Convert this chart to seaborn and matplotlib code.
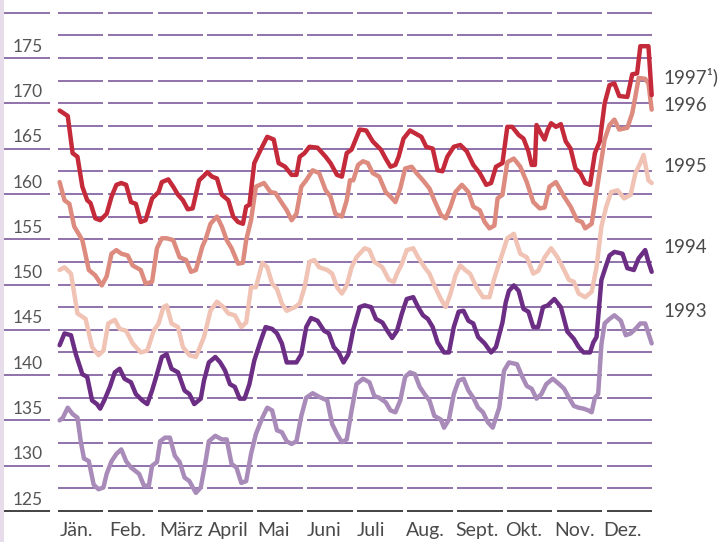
import numpy as np
import pandas as pd
import seaborn as sns
import matplotlib.pyplot as plt

# day of year / index value
days_1997 = [1, 6, 9, 12, 15, 18, 20, 23, 26, 30, 33, 36, 39, 42, 45, 48, 51, 54, 58, 62, 64, 68, 71, 74, 77, 80, 83, 87,
             90, 92, 95, 98, 101, 105, 108, 111, 114, 116, 118, 121, 125, 129, 133, 136, 140, 144, 147, 149, 152, 155,
             160, 165, 168, 172, 175, 178, 181, 186, 190, 194, 199, 202, 205, 208, 210, 213, 217, 220, 224, 227, 231,
             234, 237, 240, 244, 248, 252, 256, 260, 264, 267, 270, 274, 277, 280, 284, 287, 290, 292, 294, 295, 297,
             300, 302, 304, 307, 310, 313, 316, 319, 322, 325, 328, 331, 334, 337, 340, 343, 346, 351, 354, 357, 359,
             364, 366]
val_1997 = [169.2, 168.6, 164.5, 164.1, 160.8, 159.3, 159.0, 157.3, 157.1, 157.8, 159.7, 161.0, 161.2, 161.0, 159.1,
            158.9, 156.9, 157.1, 159.5, 160.2, 161.3, 161.6, 160.8, 159.9, 159.3, 158.3, 158.4, 161.5,
            162.0, 162.4, 161.9, 161.7, 159.9, 159.3, 157.5, 156.9, 156.7, 158.6, 158.8, 163.4, 164.9, 166.3, 166.0,
            163.4, 163.0, 162.1, 162.1, 164.1, 164.5, 165.2, 165.1, 164.1, 163.4, 162.1, 161.9, 164.5, 164.9, 167.1,
            167.0, 165.8, 164.9, 163.9, 163.0, 163.2, 164.1, 166.1, 167.0, 166.7, 166.3, 165.2, 165.0, 162.6, 162.5,
            164.1, 165.2, 165.4, 164.7, 163.2, 162.3, 161.0, 161.2, 163.0, 163.4, 167.4, 167.4, 166.5, 166.1, 164.7,
            163.2, 163.2, 167.6, 166.9, 166.0, 167.1, 167.8, 167.4, 167.7, 165.8, 165.0, 162.8, 162.3, 161.2, 161.0,
            164.5, 165.8, 170.0, 172.0, 172.2, 170.8, 170.7, 173.2, 173.3, 176.3, 176.3, 170.9]

days_1996 = [1, 4, 7, 10, 15, 19, 23, 27, 30, 33, 36, 39, 43, 46, 51, 54, 58, 61, 64, 67, 71, 75, 79, 82, 85, 89, 91,
             94, 98, 101, 104, 107, 111, 114, 116, 119, 122, 127, 131, 134, 138, 141, 144, 147, 150, 153, 157, 161,
             165, 168, 171, 175, 178, 180, 182, 185, 188, 191, 194, 198, 202, 205, 208, 211, 214, 218, 221, 225, 229,
             232, 236, 239, 242, 245, 249, 253, 256, 260, 263, 266, 269, 271, 274, 277, 281, 285, 289, 293, 297, 300,
             303, 307, 312, 316, 320, 323, 325, 329, 331, 334, 337, 340, 343, 346, 351, 354, 356, 358, 362, 364, 366]
val_1996 = [161.3, 159.3, 158.9, 156.4, 154.9, 151.6, 151.0, 149.9, 150.9, 153.4, 153.8, 153.4, 153.2, 152.1, 151.6,
            150.1, 150.3, 154.0, 155.1, 155.1, 154.9, 153.0, 152.7, 151.4, 151.6, 154.2, 155.0,
            156.7, 157.5, 156.4, 154.9, 154.0, 152.3, 152.4, 154.9, 157.1, 160.8, 161.2, 160.2, 160.1, 159.0, 158.2,
            157.1, 157.8, 160.8, 161.5, 162.6, 162.3, 160.4, 159.7, 157.8, 157.5, 159.3, 161.5, 161.5, 163.2, 163.6,
            163.4, 162.3, 161.9, 160.2, 159.7, 159.1, 160.6, 162.8, 163.0, 162.3, 161.5, 160.6, 159.3, 157.7, 157.3,
            158.6, 160.2, 161.0, 160.2, 158.6, 158.2, 156.9, 156.2, 156.5, 159.5, 159.9, 163.5, 163.9, 163.0, 161.3,
            159.1, 158.4, 158.5, 160.8, 161.3, 159.7, 158.6, 157.1, 156.9, 156.2, 156.7, 159.0, 162.6, 166.0, 167.6,
            168.2, 167.1, 167.3, 168.9, 170.8, 172.8, 172.7, 172.2, 169.3]

days_1995 = [1, 4, 8, 12, 17, 21, 25, 28, 31, 35, 38, 42, 46, 51, 55, 59, 62, 65, 67, 70, 74, 77, 81, 85, 90, 94, 98,
             102, 105, 109, 113, 116, 119, 122, 126, 129, 132, 135, 138, 141, 146, 149, 152, 155, 158, 161, 166, 169,
             172, 175, 178, 181, 184, 186, 189, 192, 195, 200, 204, 207, 209, 212, 215, 219, 222, 226, 229, 232, 236,
             239, 242, 245, 248, 251, 254, 258, 262, 266, 269, 273, 277, 281, 285, 289, 293, 296, 300, 304, 308, 312,
             315, 318, 321, 325, 329, 332, 335, 338, 341, 345, 349, 353, 356, 359, 361, 364, 366]
val_1995 = [151.6, 151.9, 151.2, 146.8, 146.2, 143.1, 142.2, 142.7, 145.7, 146.1, 145.1, 144.9, 143.5, 142.5, 142.7,
            144.9, 145.7, 147.5, 147.7, 145.7, 145.3, 143.1, 142.2, 142.0, 144.2, 147.1, 148.1, 147.5, 146.8, 146.6,
            145.3, 145.8, 149.7, 149.7, 152.4, 151.9, 150.1, 149.5, 147.9, 147.1, 147.5, 147.9, 149.7, 152.5, 152.7,
            151.9, 151.6, 151.2, 149.7, 149.0, 149.9, 151.9, 153.0, 153.4, 154.0, 153.8, 152.5, 151.9, 150.5, 150.3,
            151.2, 152.3, 153.8, 154.0, 153.0, 151.9, 151.2, 149.9, 148.4, 147.5, 149.0, 151.0, 152.1, 151.6, 151.2,
            149.7, 148.6, 148.6, 150.7, 152.9, 155.1, 155.6, 153.4, 153.0, 151.2, 151.5, 153.0, 154.0, 153.0, 151.6,
            150.5, 150.3, 149.0, 148.6, 149.2, 151.9, 156.4, 158.6, 160.2, 160.4, 159.5, 159.9, 162.3, 163.4, 164.3,
            161.5, 161.2]

days_1994 = [1, 4, 8, 11, 15, 18, 21, 24, 26, 29, 32, 35, 38, 41, 45, 48, 52, 55, 58, 61, 64, 67, 70, 74, 78, 81, 84,
             88, 90, 93, 97, 100, 103, 106, 109, 112, 115, 118, 121, 125, 128, 132, 135, 138, 141, 144, 147, 150, 153,
             156, 160, 164, 167, 170, 173, 176, 179, 182, 186, 189, 193, 196, 200, 203, 206, 209, 212, 215, 219, 222,
             225, 228, 231, 234, 238, 241, 244, 247, 250, 253, 256, 259, 263, 267, 270, 274, 276, 278, 281, 284, 287,
             290, 293, 296, 299, 302, 306, 310, 314, 318, 321, 324, 328, 330, 332, 335, 337, 340, 343, 348, 351, 355,
             358, 362, 364, 366]
val_1994 = [143.3, 144.6, 144.4, 142.3, 140.1, 139.8, 137.2, 136.8, 136.3, 137.4, 138.7, 140.3, 140.7, 139.6, 139.2,
            137.9, 137.2, 136.8, 138.3, 140.1, 142.0, 142.3, 140.7, 140.3, 138.3, 137.9, 136.8, 137.4, 139.4, 141.4,
            142.0, 141.4, 140.5, 139.0, 138.7, 137.4, 137.4, 139.0, 141.6, 143.8, 145.3, 145.1, 144.6, 143.5, 141.4,
            141.4, 141.4, 142.3, 145.3, 146.3, 146.0, 144.9, 144.6, 143.1, 142.5, 141.4, 142.3, 145.0, 147.5, 147.7,
            147.5, 146.2, 145.8, 144.9, 144.1, 144.9, 146.8, 148.4, 148.6, 147.5, 146.6, 146.2, 145.3, 143.6, 142.5,
            142.5, 145.3, 147.0, 147.1, 146.0, 145.7, 144.2, 143.5, 142.5, 143.1, 145.8, 148.0, 149.3, 149.9, 149.3,
            147.3, 147.0, 145.3, 145.3, 147.5, 147.7, 148.4, 147.5, 144.8, 144.0, 143.1, 142.5, 142.5, 143.6, 144.2,
            150.5, 151.6, 153.2, 153.6, 153.4, 151.8, 151.6, 152.9, 153.8, 152.5, 151.4]

days_1993 = [1, 3, 6, 9, 12, 14, 16, 19, 22, 25, 28, 30, 33, 36, 39, 42, 45, 50, 53, 56, 58, 61, 63, 66, 69, 72, 75,
             78, 81, 85, 88, 91, 93, 97, 101, 104, 107, 110, 113, 116, 119, 122, 126, 129, 132, 135, 138, 141, 144,
             147, 150, 153, 157, 161, 166, 169, 172, 175, 178, 181, 184, 188, 192, 195, 198, 202, 205, 208, 211, 214,
             217, 220, 223, 226, 229, 232, 236, 238, 241, 244, 247, 250, 253, 256, 259, 262, 265, 268, 272, 275, 278,
             283, 286, 289, 292, 295, 298, 301, 305, 309, 312, 315, 318, 321, 324, 327, 329, 331, 333, 335, 337, 340,
             343, 347, 350, 353, 356, 359, 362, 364, 366]
val_1993 = [135.0, 135.3, 136.4, 135.7, 135.3, 132.7, 130.8, 130.5, 127.9, 127.4, 127.6, 129.1, 130.5, 131.3, 131.8,
            130.5, 129.8, 129.1, 127.8, 127.8, 130.0, 130.4, 132.7, 133.1, 133.1, 131.1, 130.4, 128.7, 128.3, 127.0,
            127.6, 130.5, 132.7, 133.3, 132.9, 132.9, 130.2, 129.8, 128.1, 128.3, 131.3, 133.5, 135.3, 136.4, 136.1,
            133.9, 133.7, 132.7, 132.4, 132.7, 135.5, 137.5, 138.0, 137.6, 137.2, 134.6, 133.5, 132.6, 132.9, 136.1,
            139.0, 139.6, 139.2, 137.7, 137.5, 137.0, 136.1, 135.9, 137.2, 139.8, 140.3, 140.1, 138.7, 137.9, 137.2,
            135.5, 135.1, 134.2, 135.1, 137.9, 139.4, 139.6, 138.3, 137.5, 136.4, 135.9, 134.8, 134.2, 136.4, 140.5,
            141.4, 141.2, 139.9, 138.8, 138.5, 137.4, 137.9, 139.0, 139.6, 139.0, 138.5, 137.5, 136.6, 136.4, 136.3,
            136.1, 135.9, 137.5, 137.9, 143.4, 145.7, 146.2, 146.6, 146.0, 144.4, 144.6, 145.1, 145.7, 145.7, 144.6,
            143.5]

years = ['1993', '1994', '1995', '1996', '1997']
year_labels = ['1993', '1994', '1995', '1996', '1997¹)']
label_y = [147.0, 154.1, 163.0, 169.8, 172.9]
months = ['Jän.', 'Feb.', 'März', 'April', 'Mai', 'Juni', 'Juli', 'Aug.', 'Sept.', 'Okt.', 'Nov.', 'Dez.']
colors = ['#a98bba', '#6c2d84', '#f0c3b5', '#dd8a7f', '#c42a3a']

df = pd.concat([
    pd.DataFrame({'day': d, 'value': v, 'year': y})
    for d, v, y in [(days_1993, val_1993, '1993'), (days_1994, val_1994, '1994'), (days_1995, val_1995, '1995'),
                    (days_1996, val_1996, '1996'), (days_1997, val_1997, '1997')]
])

plt.rcParams['font.family'] = ['Lato', 'DejaVu Sans']
fig = plt.figure(figsize=(7.19, 5.42), dpi=100)
ax = fig.add_axes([0, 0, 1, 1])
ax.set_xlim(-35.76, 407.5)
ax.set_ylim(121.58, 181.4)
ax.axis('off')

# lavender strip on the left edge
ax.axvspan(-35.76, -33.3, color='#e6dcea', lw=0)

grid_col = '#7d5a9c'
mw = 30.77
for i in range(12):
    x0 = -0.2 + mw * i
    for v in np.arange(125, 180.1, 2.5):
        ax.plot([x0, x0 + 28.1], [v, v], color='#222222' if v == 125 else grid_col, lw=1.2, zorder=1,
                solid_capstyle='butt')
    ax.text(1.2 + 30.46 * i, 122.8, months[i], ha='left', va='center', fontsize=14, color='#4a4a4a')

for v in np.arange(125, 180.1, 5):
    ax.plot([-33.3, -4.9], [v, v], color='#222222' if v == 125 else grid_col, lw=1.2, zorder=1,
            solid_capstyle='butt')
    if v < 180:
        ax.text(-18.6, v + 1.25, f'{v:.0f}', ha='center', va='center', fontsize=12.5, color='#555555')

sns.lineplot(data=df, x='day', y='value', hue='year', hue_order=years, palette=colors, lw=3.2,
             legend=False, ax=ax, estimator=None, sort=False, zorder=3)
for line in ax.get_lines()[-5:]:
    line.set_solid_joinstyle('round')
    line.set_solid_capstyle('round')

for lab, yy in zip(year_labels, label_y):
    ax.text(373, yy, lab, ha='left', va='center', fontsize=13.5, color='#4a4a4a')

fig.savefig('out.png', dpi=100)
